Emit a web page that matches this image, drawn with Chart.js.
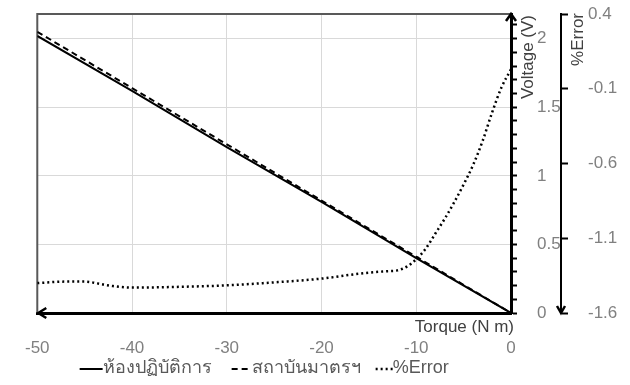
<!DOCTYPE html>
<html>
<head>
<meta charset="utf-8">
<script src="https://cdn.jsdelivr.net/npm/chart.js@4/dist/chart.umd.min.js"></script>
<style>
  html, body { margin: 0; padding: 0; background: #fff; }
  #wrap { width: 630px; height: 385px; }
</style>
</head>
<body>
<div id="wrap"><canvas id="chart"></canvas></div>
<script>
// voltage vs torque (two sources) and the % error between them
const seriesNames = ['ห้องปฏิบัติการ', 'สถาบันมาตรฯ', '%Error'];
const torqueV = [-50, -40, -30, -20, -10, 0];
const voltLab = [2.02, 1.62, 1.21, 0.81, 0.40, 0];
const voltStd = [2.05, 1.64, 1.23, 0.82, 0.41, 0];
const torqueErr = [-50, -47, -45, -43, -42, -40, -35, -30, -25, -20, -17, -15, -13, -12, -11, -10, -9, -8, -7, -6, -5, -4, -3, -2, -1, 0];
const errPct = [-1.40, -1.39, -1.39, -1.41, -1.42, -1.43, -1.425, -1.415, -1.395, -1.37, -1.345, -1.33, -1.32, -1.315, -1.29, -1.24, -1.17, -1.07, -0.97, -0.86, -0.74, -0.61, -0.45, -0.26, -0.09, 0.03];
const voltLabels = ['0', '0.5', '1', '1.5', '2'];

const FONT = '"Liberation Sans", Arial, "DejaVu Sans", "Noto Sans", sans-serif';
const isMajor = v => Math.abs(v * 2 - Math.round(v * 2)) < 1e-6;

const toPoints = (xs, ys) => xs.map((x, i) => ({ x: x, y: ys[i] }));

// keep the plot area where it is, no extra room for edge labels
const noEdgePad = (scale) => {
    scale.paddingTop = 0;
    scale.paddingBottom = 0;
};

const decorations = {
    id: 'decorations',
    beforeDatasetsDraw(chart) {
        const { ctx, chartArea: a } = chart;
        ctx.save();
        ctx.strokeStyle = '#595959';
        ctx.lineWidth = 2;
        ctx.beginPath();
        ctx.moveTo(a.left, a.bottom);
        ctx.lineTo(a.left, a.top);
        ctx.lineTo(a.right, a.top);
        ctx.stroke();
        ctx.restore();
    },
    afterDraw(chart) {
        const { ctx, chartArea: a } = chart;
        const y1 = chart.scales.y1;
        ctx.save();
        ctx.strokeStyle = '#000';
        ctx.lineWidth = 2.5;
        // left arrow on torque axis
        ctx.beginPath();
        ctx.moveTo(a.left + 9, a.bottom - 5);
        ctx.lineTo(a.left + 1, a.bottom);
        ctx.lineTo(a.left + 9, a.bottom + 5);
        ctx.stroke();
        // up arrow on voltage axis
        ctx.beginPath();
        ctx.moveTo(a.right - 5, a.top + 7);
        ctx.lineTo(a.right, a.top);
        ctx.lineTo(a.right + 5, a.top + 7);
        ctx.stroke();
        // down arrow on %Error axis
        const ex = y1.left;
        ctx.beginPath();
        ctx.moveTo(ex - 4, a.bottom - 7);
        ctx.lineTo(ex, a.bottom);
        ctx.lineTo(ex + 4, a.bottom - 7);
        ctx.stroke();

        ctx.fillStyle = '#404040';
        ctx.font = '17px ' + FONT;
        ctx.textAlign = 'right';
        ctx.textBaseline = 'middle';
        ctx.fillText('Torque (N m)', a.right + 3, a.bottom + 14);
        ctx.save();
        ctx.translate(a.right + 17, a.top + 1);
        ctx.rotate(-Math.PI / 2);
        ctx.fillText('Voltage (V)', 0, 0);
        ctx.restore();
        ctx.save();
        ctx.translate(ex + 17, a.top - 1);
        ctx.rotate(-Math.PI / 2);
        ctx.fillText('%Error', 0, 0);
        ctx.restore();

        // legend: line sample followed directly by its label
        const symW = [23, 20, 17];
        const gaps = [20, 15];
        ctx.font = '18px ' + FONT;
        ctx.textAlign = 'left';
        const dsets = chart.data.datasets;
        const widths = dsets.map((ds, i) => symW[i] + ctx.measureText(ds.label).width);
        const total = widths.reduce((s, w) => s + w, 0) + gaps[0] + gaps[1];
        let x = (a.left + a.right) / 2 - 10 - total / 2;
        const ly = 368;
        dsets.forEach((ds, i) => {
            ctx.save();
            ctx.strokeStyle = ds.borderColor;
            ctx.lineWidth = ds.borderWidth;
            ctx.setLineDash(ds.borderDash || []);
            ctx.beginPath();
            ctx.moveTo(x, ly + 1);
            ctx.lineTo(x + symW[i], ly + 1);
            ctx.stroke();
            ctx.restore();
            ctx.fillStyle = '#595959';
            ctx.fillText(ds.label, x + symW[i], ly);
            x += widths[i] + (gaps[i] || 0);
        });
        ctx.restore();
    }
};

new Chart(document.getElementById('chart').getContext('2d'), {
    type: 'scatter',
    data: {
        datasets: [
            {
                label: seriesNames[0],
                data: toPoints(torqueV, voltLab),
                showLine: true,
                borderColor: '#000',
                backgroundColor: '#000',
                borderWidth: 2,
                pointRadius: 0,
                yAxisID: 'y'
            },
            {
                label: seriesNames[1],
                data: toPoints(torqueV, voltStd),
                showLine: true,
                borderColor: '#000',
                backgroundColor: '#000',
                borderWidth: 2,
                borderDash: [6, 4],
                pointRadius: 0,
                yAxisID: 'y'
            },
            {
                label: seriesNames[2],
                data: toPoints(torqueErr, errPct),
                showLine: true,
                borderColor: '#000',
                backgroundColor: '#000',
                borderWidth: 2.5,
                borderDash: [2, 3],
                cubicInterpolationMode: 'monotone',
                pointRadius: 0,
                yAxisID: 'y1'
            }
        ]
    },
    options: {
        responsive: true,
        maintainAspectRatio: false,
        animation: false,
        layout: {
            padding: { left: 24, top: 14, right: 0, bottom: 0 }
        },
        plugins: {
            title: { display: false },
            tooltip: { enabled: false },
            legend: { display: false }
        },
        scales: {
            x: {
                type: 'linear',
                position: 'bottom',
                min: -50,
                max: 0,
                afterFit: (scale) => { scale.height = 72; },
                border: { display: true, color: '#000', width: 3 },
                grid: {
                    color: (ctx) => (ctx.tick && (ctx.tick.value === -50 || ctx.tick.value === 0)) ? 'rgba(0,0,0,0)' : '#d9d9d9',
                    drawTicks: false
                },
                ticks: {
                    stepSize: 10,
                    padding: 25,
                    color: '#808080',
                    font: { size: 17, family: FONT }
                }
            },
            y: {
                type: 'linear',
                position: 'right',
                min: 0,
                max: 2.18,
                afterFit: (scale) => { scale.width = 50; noEdgePad(scale); },
                border: { display: true, color: '#000', width: 3 },
                grid: {
                    color: (ctx) => (ctx.tick && ctx.tick.value > 0 && isMajor(ctx.tick.value)) ? '#d9d9d9' : 'rgba(0,0,0,0)',
                    tickColor: '#000',
                    tickWidth: 2,
                    tickLength: 6
                },
                ticks: {
                    stepSize: 0.1,
                    includeBounds: false,
                    autoSkip: false,
                    padding: 20,
                    color: '#808080',
                    font: { size: 17, family: FONT },
                    callback: (v) => isMajor(v) ? voltLabels[Math.round(v * 2)] : ''
                }
            },
            y1: {
                type: 'linear',
                position: 'right',
                min: -1.6,
                max: 0.4,
                afterFit: (scale) => { scale.width = 69; noEdgePad(scale); },
                border: { display: true, color: '#000', width: 2 },
                grid: {
                    drawOnChartArea: false,
                    tickColor: '#000',
                    tickWidth: 2,
                    tickLength: 7
                },
                ticks: {
                    stepSize: 0.5,
                    padding: 20,
                    color: '#808080',
                    font: { size: 17, family: FONT },
                    callback: (v) => v.toFixed(1)
                }
            }
        }
    },
    plugins: [decorations]
});
</script>
</body>
</html>
